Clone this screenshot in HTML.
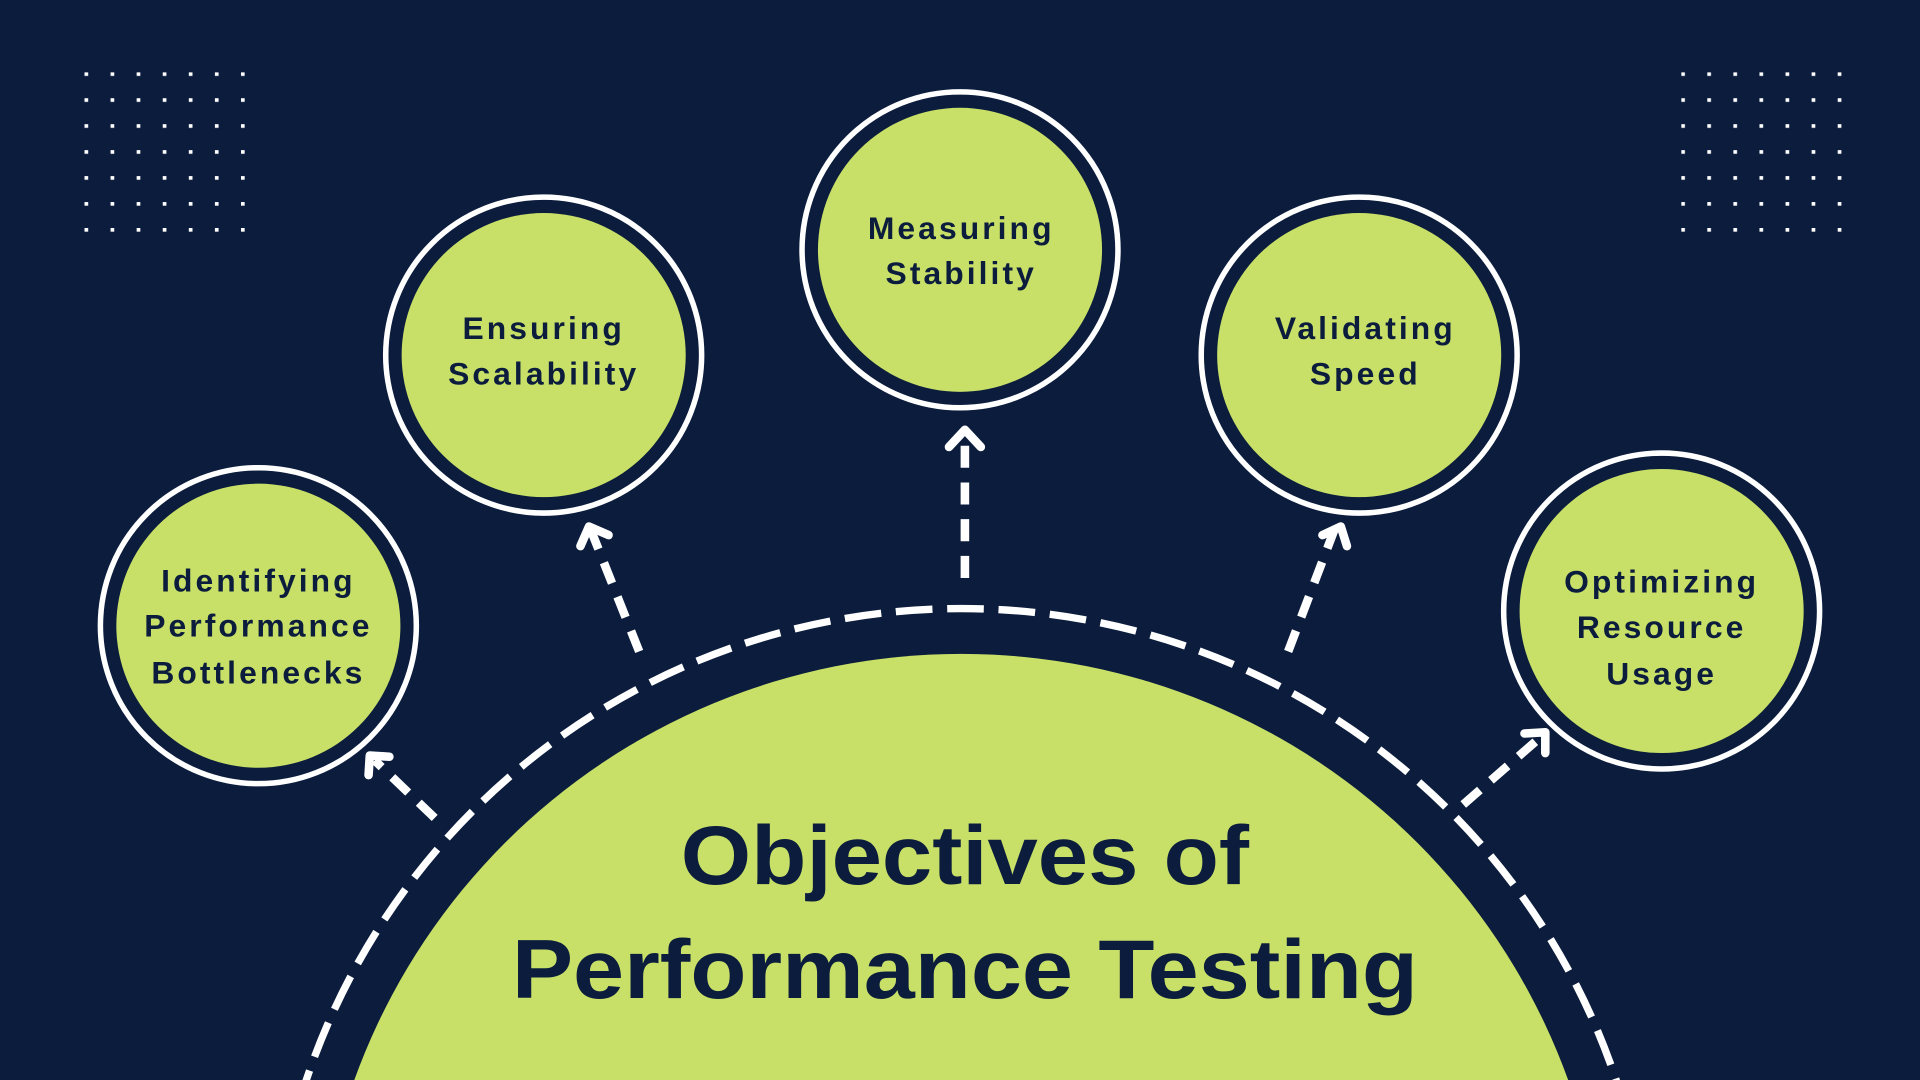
<!DOCTYPE html>
<html><head><meta charset="utf-8"><style>
html,body{margin:0;padding:0;background:#0b1c3d;overflow:hidden;width:1920px;height:1080px}
svg{display:block;position:absolute;left:0;top:0}
text{font-family:"Liberation Sans",sans-serif;fill:#0b1c3d;text-anchor:middle}
.s{font-size:26px;letter-spacing:2.5px;font-weight:bold}
.t{font-size:68px;font-weight:bold}
</style></head><body>
<svg width="1920" height="1080" viewBox="0 0 1568 882" preserveAspectRatio="none" xmlns="http://www.w3.org/2000/svg">
<defs>
<pattern id="d" x="69" y="59" width="21.3" height="21.2" patternUnits="userSpaceOnUse"><rect width="3" height="3" fill="#fff"/></pattern>
<pattern id="d2" x="1373" y="59" width="21.3" height="21.2" patternUnits="userSpaceOnUse"><rect width="3" height="3" fill="#fff"/></pattern>
</defs>
<rect width="1568" height="882" fill="#0b1c3d"/>
<rect x="69" y="59" width="135" height="134" fill="url(#d)"/>
<rect x="1373" y="59" width="135" height="134" fill="url(#d2)"/>
<circle cx="785" cy="1061" r="564" fill="none" stroke="#fff" stroke-width="6" stroke-dasharray="30 12"/>
<circle cx="785" cy="1061" r="527" fill="#c8e068"/>
<g fill="none" stroke="#fff" stroke-width="7" stroke-linecap="butt">
<line x1="788" y1="472" x2="788" y2="356" stroke-dasharray="18 12"/>
<line x1="522" y1="532" x2="483" y2="434" stroke-dasharray="18 12"/>
<line x1="1052" y1="532" x2="1090" y2="432" stroke-dasharray="18 12"/>
<line x1="355" y1="668" x2="306" y2="621" stroke-dasharray="18 12"/>
<line x1="1195" y1="657" x2="1257" y2="603" stroke-dasharray="18 12"/>
</g>
<g fill="none" stroke="#fff" stroke-width="7" stroke-linecap="round" stroke-linejoin="round">
<polyline points="775,365 788,351 801,365"/>
<polyline points="474,446 481,430 497,437"/>
<polyline points="1080,437 1095,430 1100,446"/>
<polyline points="301,633 302,617 318,618"/>
<polyline points="1245,599 1262,598 1262,615"/>
</g>
<g stroke="#fff" stroke-width="4.5" fill="#0b1c3d">
<circle cx="211" cy="511" r="129"/>
<circle cx="444" cy="290" r="129"/>
<circle cx="784" cy="204" r="129"/>
<circle cx="1110" cy="290" r="129"/>
<circle cx="1357" cy="499" r="129"/>
</g>
<g fill="#c8e068">
<circle cx="211" cy="511" r="116"/>
<circle cx="444" cy="290" r="116"/>
<circle cx="784" cy="204" r="116"/>
<circle cx="1110" cy="290" r="116"/>
<circle cx="1357" cy="499" r="116"/>
</g>
<text class="s" x="211" y="483">Identifying</text>
<text class="s" x="211" y="520">Performance</text>
<text class="s" x="211" y="558">Bottlenecks</text>
<text class="s" x="444" y="277">Ensuring</text>
<text class="s" x="444" y="314">Scalability</text>
<text class="s" x="785" y="195">Measuring</text>
<text class="s" x="785" y="232">Stability</text>
<text class="s" x="1115" y="277">Validating</text>
<text class="s" x="1115" y="314">Speed</text>
<text class="s" x="1357" y="484">Optimizing</text>
<text class="s" x="1357" y="521">Resource</text>
<text class="s" x="1357" y="559">Usage</text>
<text class="t" x="788" y="722" textLength="464" lengthAdjust="spacingAndGlyphs">Objectives of</text>
<text class="t" x="788" y="815" textLength="740" lengthAdjust="spacingAndGlyphs">Performance Testing</text>
</svg>
</body></html>
